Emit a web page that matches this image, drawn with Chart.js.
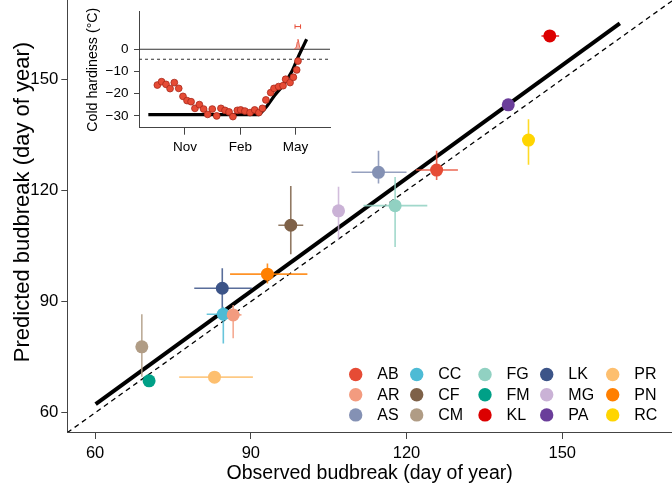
<!DOCTYPE html>
<html><head><meta charset="utf-8">
<script src="https://cdn.jsdelivr.net/npm/chart.js@4"></script>
<style>
html,body{margin:0;padding:0;background:#fff;}
#wrap{position:relative;width:672px;height:489px;overflow:hidden;}
#main{position:absolute;left:0;top:0;}
#inset{position:absolute;left:60px;top:0;}
</style></head><body>
<div id="wrap"><canvas id="main" width="672" height="489"></canvas><canvas id="inset" width="290" height="170"></canvas></div>
<script>
// ---------- main panel data ----------
const sites = ['AB','AR','AS','CC','CF','CM','FG','FM','KL','LK','MG','PA','PR','PN','RC'];
const siteColors = ['#E64B35','#F39B7F','#8491B4','#4DBBD5','#7E6148','#B09C85','#91D1C2','#00A087','#DC0000','#3C5488','#CAB2D6','#6A3D9A','#FDBF6F','#FF7F00','#FFD500'];
const observed  = [125.8, 86.6, 114.6, 84.7, 97.7, 69.0, 117.8, 70.4, 147.6, 84.5, 106.9, 139.6, 83.0, 93.2, 143.5];
const predicted = [125.5, 86.4, 124.9, 86.6, 110.6, 77.8, 115.9, 68.6, 161.7, 93.6, 114.5, 143.1, 69.6, 97.4, 133.6];
const observedLow  = [121.8, 85.7, 109.4, 81.5, 95.3, null, 111.7, null, 146.0, 79.1, null, null, 76.2, 86.0, null];
const observedHigh = [129.9, 88.2, 120.0, 87.9, 100.1, null, 124.0, null, 149.4, 90.2, null, null, 90.4, 100.9, null];
const predictedLow  = [122.8, 80.1, 121.9, 78.7, 102.8, 69.7, 104.7, null, null, 85.9, 106.8, null, null, 94.9, 126.9];
const predictedHigh = [130.7, 89.1, 130.7, 88.6, 121.2, 86.6, 123.6, null, null, 99.0, 121.0, null, null, 100.3, 139.2];
const fitLineX = [60.1, 161.1];
const fitLineY = [62.35, 165.1];
const xTicks = [60, 90, 120, 150];
const yTicks = [60, 90, 120, 150];
const axisMinX = 54.64, axisMaxX = 171.15;
const axisMinY = 54.8,  axisMaxY = 171.4;

// ---------- inset data ----------
const hardinessMonth = [-1.50,-1.27,-1.03,-0.81,-0.58,-0.34,-0.11,0.11,0.33,0.54,0.78,1.01,1.23,1.48,1.72,1.95,2.17,2.39,2.60,2.84,3.02,3.25,3.53,3.78,4.01,4.20,4.39,4.65,4.83,5.08,5.32,5.46,5.70,5.88,6.06,6.13];
const hardinessValue = [-16.1,-14.6,-15.8,-17.7,-15.0,-17.6,-21.2,-23.1,-23.6,-26.6,-24.9,-26.9,-29.3,-26.9,-30.0,-26.6,-27.5,-28.2,-30.3,-27.5,-27.3,-27.8,-28.5,-27.3,-28.5,-26.6,-22.8,-19.5,-17.6,-16.8,-16.4,-13.5,-15.0,-12.6,-9.3,-5.3];
const modelMonth = [-1.99, 3.98, 4.20, 4.43, 4.88, 5.33, 5.79, 6.15, 6.60];
const modelValue = [-29.4, -29.4, -27.9, -25.8, -20.6, -16.1, -10.1, -3.3, 4.5];
const budbreakRangeMonth = [5.97, 6.27];
const budbreakRangeValue = 10.2;
const densityMonth = [5.93, 6.04, 6.09, 6.13, 6.17, 6.22, 6.33];
const densityValue = [0, 1.0, 3.2, 4.5, 3.2, 1.0, 0];
const thresholdValue = -4.5;
const insetTickMonths = [0, 3, 6];
const insetTickLabels = ['Nov', 'Feb', 'May'];
const insetYTicks = [0, -10, -20, -30];
const insetMinX = -2.496, insetMaxX = 7.868;
const insetMinY = -35.3, insetMaxY = 16.9;

const FONT = "'Liberation Sans', Arial, Helvetica, sans-serif";
const AXIS_COLOR = '#444';

function withAlpha(hex, a){
  const n = parseInt(hex.slice(1),16);
  return `rgba(${(n>>16)&255},${(n>>8)&255},${n&255},${a})`;
}
function noPad(s){ s.paddingTop = 0; s.paddingBottom = 0; s.paddingLeft = 0; s.paddingRight = 0; }

// ---------- main datasets ----------
const datasets = [];
sites.forEach((s,i)=>{
  datasets.push({
    label: s,
    data: [{x: observed[i], y: predicted[i]}],
    backgroundColor: siteColors[i],
    borderWidth: 0,
    pointRadius: 6.5,
    order: 0
  });
  if (observedLow[i] !== null) {
    datasets.push({
      label: s + ' obs range',
      data: [{x: observedLow[i], y: predicted[i]}, {x: observedHigh[i], y: predicted[i]}],
      showLine: true, pointRadius: 0, borderWidth: 1.6,
      borderColor: withAlpha(siteColors[i], 0.85), order: 1
    });
  }
  if (predictedLow[i] !== null) {
    datasets.push({
      label: s + ' pred range',
      data: [{x: observed[i], y: predictedLow[i]}, {x: observed[i], y: predictedHigh[i]}],
      showLine: true, pointRadius: 0, borderWidth: 1.6,
      borderColor: withAlpha(siteColors[i], 0.85), order: 1
    });
  }
});
datasets.push({
  label: 'fit',
  data: fitLineX.map((x,i)=>({x, y: fitLineY[i]})),
  showLine: true, pointRadius: 0, borderWidth: 4, borderColor: '#000', order: 2
});
datasets.push({
  label: '1:1',
  data: [{x: axisMinX, y: axisMinX}, {x: axisMaxY, y: axisMaxY}],
  showLine: true, pointRadius: 0, borderWidth: 1.3, borderColor: '#000',
  borderDash: [5, 4], order: 3
});

const legendColX = [355.7, 416.7, 485, 546.7, 612.7];
const legendRowY = [374.5, 394.7, 414.9];
const legendPlugin = {
  id: 'gridLegend',
  afterDraw(chart){
    const ctx = chart.ctx;
    ctx.save();
    ctx.font = `16px ${FONT}`;
    ctx.textBaseline = 'middle';
    ctx.textAlign = 'left';
    sites.forEach((s,i)=>{
      const col = Math.floor(i/3), row = i%3;
      const cx = legendColX[col], cy = legendRowY[row];
      ctx.beginPath();
      ctx.arc(cx, cy, 6.7, 0, Math.PI*2);
      ctx.fillStyle = siteColors[i];
      ctx.fill();
      ctx.fillStyle = '#000';
      ctx.fillText(s, cx + 21.6, cy + 0.5);
    });
    // y-axis title
    ctx.save();
    ctx.translate(23, 202);
    ctx.rotate(-Math.PI/2);
    ctx.textAlign = 'center';
    ctx.textBaseline = 'middle';
    ctx.font = `22px ${FONT}`;
    ctx.fillStyle = '#000';
    ctx.fillText('Predicted budbreak (day of year)', 0, 0);
    ctx.restore();
    ctx.restore();
  }
};

new Chart(document.getElementById('main'), {
  type: 'scatter',
  data: { datasets },
  options: {
    responsive: false, animation: false, devicePixelRatio: 1,
    layout: { padding: 0, autoPadding: false },
    plugins: { legend: { display: false }, tooltip: { enabled: false } },
    scales: {
      x: {
        type: 'linear', min: axisMinX, max: axisMaxX,
        afterBuildTicks: s => { s.ticks = xTicks.map(v => ({ value: v })); },
        afterFit: s => { s.height = 57; noPad(s); },
        grid: { drawOnChartArea: false, drawTicks: true, tickLength: 7, color: AXIS_COLOR, lineWidth: 1 },
        border: { display: true, color: AXIS_COLOR, width: 1 },
        ticks: { color: '#000', font: { family: FONT, size: 16.5 }, padding: 5, maxRotation: 0, autoSkip: false },
        title: { display: true, text: 'Observed budbreak (day of year)', color: '#000',
                 font: { family: FONT, size: 19.5 }, padding: { top: 0, bottom: 4 } }
      },
      y: {
        type: 'linear', min: axisMinY, max: axisMaxY,
        afterBuildTicks: s => { s.ticks = yTicks.map(v => ({ value: v })); },
        afterFit: s => { s.width = 67.3; noPad(s); },
        grid: { drawOnChartArea: false, drawTicks: true, tickLength: 6, color: AXIS_COLOR, lineWidth: 1 },
        border: { display: true, color: AXIS_COLOR, width: 1 },
        ticks: { color: '#000', font: { family: FONT, size: 16.8 }, padding: 3, autoSkip: false },
        title: { display: false }
      }
    }
  },
  plugins: [legendPlugin]
});

// ---------- inset ----------
new Chart(document.getElementById('inset'), {
  type: 'scatter',
  data: { datasets: [
    { label: 'observed hardiness', data: hardinessMonth.map((x,i)=>({x, y: hardinessValue[i]})),
      pointRadius: 3.4, backgroundColor: '#E64B35', borderColor: '#A8281A', borderWidth: 0.8, order: 0 },
    { label: 'model', data: modelMonth.map((x,i)=>({x, y: modelValue[i]})),
      showLine: true, pointRadius: 0, borderColor: '#000', borderWidth: 3.2,
      cubicInterpolationMode: 'monotone', order: 1 },
    { label: 'budbreak range', data: budbreakRangeMonth.map(x=>({x, y: budbreakRangeValue})),
      showLine: true, pointStyle: 'line', rotation: 90, pointRadius: 2.2,
      borderColor: '#E64B35', pointBorderColor: '#E64B35', borderWidth: 1, pointBorderWidth: 1, order: 0 },
    { label: 'budbreak density', data: densityMonth.map((x,i)=>({x, y: densityValue[i]})),
      showLine: true, pointRadius: 0, borderColor: 'rgba(230,75,53,0.8)', borderWidth: 1,
      backgroundColor: 'rgba(230,75,53,0.45)', fill: { value: 0 }, order: 2 },
    { label: 'zero', data: [{x: insetMinX, y: 0}, {x: insetMaxX, y: 0}],
      showLine: true, pointRadius: 0, borderColor: '#333', borderWidth: 1, order: 3 },
    { label: 'threshold', data: [{x: insetMinX, y: thresholdValue}, {x: insetMaxX, y: thresholdValue}],
      showLine: true, pointRadius: 0, borderColor: '#333', borderWidth: 1, borderDash: [3, 3], order: 3 }
  ]},
  options: {
    responsive: false, animation: false, devicePixelRatio: 1,
    layout: { padding: { left: 0, right: 20, top: 11.7, bottom: 0 }, autoPadding: false },
    plugins: { legend: { display: false }, tooltip: { enabled: false } },
    scales: {
      x: {
        type: 'linear', min: insetMinX, max: insetMaxX,
        afterBuildTicks: s => { s.ticks = insetTickMonths.map(v => ({ value: v })); },
        afterFit: s => { s.height = 42.3; noPad(s); },
        grid: { drawOnChartArea: false, drawTicks: true, tickLength: 7, color: AXIS_COLOR, lineWidth: 1 },
        border: { display: true, color: AXIS_COLOR, width: 1 },
        ticks: { color: '#000', font: { family: FONT, size: 13.5 }, padding: 4, maxRotation: 0, autoSkip: false,
                 callback: v => insetTickLabels[insetTickMonths.indexOf(v)] }
      },
      y: {
        type: 'linear', min: insetMinY, max: insetMaxY,
        afterBuildTicks: s => { s.ticks = insetYTicks.map(v => ({ value: v })); },
        afterFit: s => { s.width = 79; noPad(s); },
        grid: { drawOnChartArea: false, drawTicks: true, tickLength: 5, color: AXIS_COLOR, lineWidth: 1 },
        border: { display: true, color: AXIS_COLOR, width: 1 },
        ticks: { color: '#000', font: { family: FONT, size: 13.5 }, padding: 5.5, autoSkip: false,
                 callback: v => String(v).replace('-', '\u2212') },
        title: { display: true, text: 'Cold hardiness (°C)', color: '#000',
                 font: { family: FONT, size: 14.2 }, padding: { top: 25, bottom: 0 } }
      }
    }
  }
});
</script>
</body></html>
